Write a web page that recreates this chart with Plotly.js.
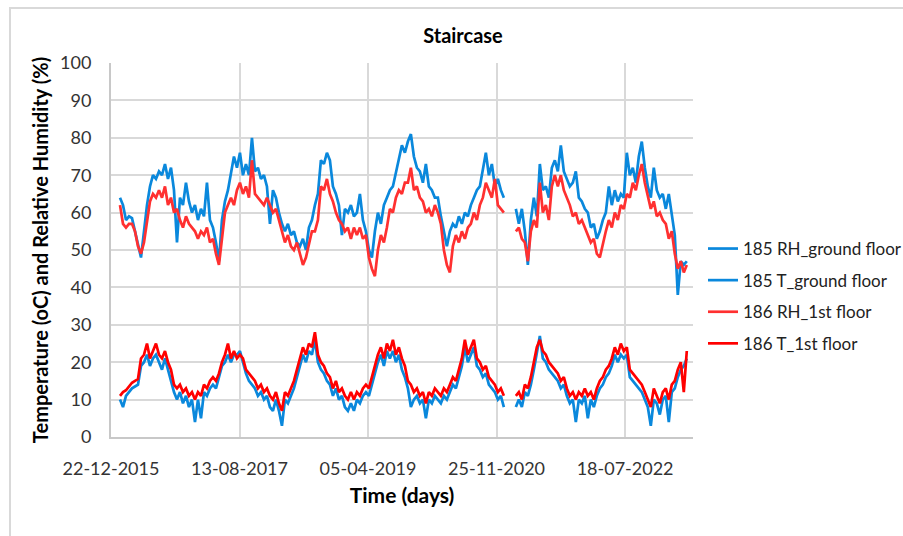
<!DOCTYPE html>
<html>
<head>
<meta charset="utf-8">
<script src="https://cdn.plot.ly/plotly-3.0.1.min.js"></script>
<style>html,body{margin:0;padding:0;background:#fff;}#chart{width:903px;height:536px;}</style>
</head>
<body>
<div id="chart"></div>
<script>
// Sampling of the daily records (every 14 days from 02-02-2016)
const startDate = '2016-02-02';
const stepDays = 14;

const tickLabels = ['22-12-2015', '13-08-2017', '05-04-2019', '25-11-2020', '18-07-2022'];
const seriesNames = ['185 RH_ground floor', '185 T_ground floor', '186 RH_1st floor', '186 T_1st floor'];

const rhGround = [
 64,62,58,59,58.5,55,52,48,55,62,
 67,70,69,71,70,73,69,72,66,52,
 64,62,68,63,60,62,58,61,59,68,
 58,56,52,47,58,63,66,70,75,72,
 76,70,73,70,80,
 71,72,69,70,67,
 57,66,64,60,57,55,57,54,55,52,
 51,53,50,56,58,62,65,74,73,76,
 74,67,65,62,54,61,60,62,59,60,
 65,58,55,50,48,55,60,57,62,64,
 66,67,71,74,78,76,
 79,81,75,72,
 71,68,73,67,66,64,64,59,55,51,
 55,57,56,59,57,60,59,62,64,66,
 67,72,76,70,73,67,69,66,64,
 null,null,null,
 61,57,61,55,46,58,64,59,
 73,66,67,64,
 72,74,71,78,71,69,
 67,68,71,64,63,61,60,56,57,53,
 55,58,60,67,62,66,63,65,64,76,
 70,72,68,75,79,72,67,64,72,66,
 64,65,61,65,60,54,38,47,46,47
];

const tGround = [
 10,8,11,12,13,13.5,14,19,20,22,
 19,21,22,20,18,21,18,15,12,10,
 12,9,11,8,10,4,10,5,12,11,
 13,14,13,16,19,20,22,20,22,22,
 23,20,17,15,14,13,11,12,10,11,
 8,7,10,7,3,10,9,11,13,16,
 19,22,20,23,22,26,20,18,17,15,
 14,11,13,10,11,8,7,9,7,10,
 9,11,12,11,14,17,20,22,19,23,
 21,23,20,22,18,16,
 13,8,10,11,
 9,10,5,10,9,11,10,9,11,10,
 12,14,13,16,19,24,20,22,24,19,
 18,16,17,14,13,12,10,11,8,
 null,null,null,
 8,10,8,12,11,14,18,22,
 27,21,20,18,
 17,16,15,13,14,11,
 9,10,4,10,9,11,5,10,8,11,
 13,14,16,17,19,22,20,22,21,22,
 16,15,14,13,12,10,8,3,10,9,
 6,10,11,4,12,13,16,18,19,21
];

const rh1st = [
 62,57,56,57,57,55,51,49,52,58,
 63,65,64,66,64,67,62,64,60,61,
 58,56,59,57,56,55,53,55,54,56,
 52,53,49,46,53,60,62,64,62,66,
 68,65,67,64,74,
 65,64,63,62,64,
 62,60,61,58,55,52,54,51,50,52,
 49,46,48,52,55,55,58,67,66,69,
 65,63,60,58,57,55,56,53,56,54,
 56,53,54,48,45,43,50,54,52,56,
 61,60,64,66,65,68,
 68,72,66,67,
 64,63,60,61,59,62,60,57,50,46,
 44,51,54,52,55,53,56,57,60,58,
 62,64,68,66,64,69,62,61,60,
 null,null,null,
 55,56,53,52,47,55,58,56,
 68,60,62,58,
 67,70,67,70,66,64,
 62,59,60,57,58,56,54,52,53,49,
 48,52,55,58,56,60,58,62,61,65,
 64,68,66,70,73,68,64,61,63,59,
 60,58,57,53,55,49,45,47,44,46
];

const t1st = [
 11,12,12.5,13.5,14.5,15,15.5,21,22,25,
 21,23,25,22,21,23,20,18,14,13,
 14,12,13,11,12,10,12,11,14,13,
 15,16,15,17,20,22,25,21,23,21,
 22,21,18,17,16,15,13,14,12,13,
 11,10,12,9,7,12,11,13,15,18,
 21,24,22,25,24,28,22,20,19,17,
 16,13,15,12,13,11,10,12,10,12,
 11,13,14,13,16,19,22,24,21,25,
 23,26,22,24,21,19,
 15,14,12,13,
 11,12,9,12,11,13,12,11,13,12,
 14,16,15,18,21,26,22,24,26,21,
 20,18,19,16,15,14,12,13,11,
 null,null,null,
 11,12,10,14,13,16,20,24,
 26,23,22,20,
 19,18,17,15,16,13,
 11,12,10,12,11,13,11,12,10,13,
 15,16,18,19,21,24,22,25,23,24,
 18,17,16,15,14,12,10,8,13,11,
 9,12,13,10,14,15,18,20,12,23
];

function buildDates(n) {
  const t0 = Date.parse(startDate + 'T00:00:00Z');
  const out = [];
  for (let i = 0; i < n; i++) {
    out.push(new Date(t0 + i * stepDays * 86400000).toISOString().slice(0, 10));
  }
  return out;
}
const dates = buildDates(rhGround.length);
const tickVals = tickLabels.map(s => { const p = s.split('-'); return p[2] + '-' + p[1] + '-' + p[0]; });

const blue = '#0a88dc';
const red = '#ff0000';
const FONT = 'Lato, "Open Sans", sans-serif';

const seriesData = [rhGround, tGround, rh1st, t1st];
const seriesColors = [blue, blue, '#ff3030', red];

const traces = seriesData.map((ys, k) => ({
  type: 'scatter', mode: 'lines',
  x: dates, y: ys, name: seriesNames[k],
  legendgroup: 'g' + k,
  connectgaps: false,
  line: {color: seriesColors[k], width: 2.7}
}));

const layout = {
  width: 903, height: 536,
  margin: {l: 111, r: 210, t: 63, b: 99, autoexpand: false},
  paper_bgcolor: '#ffffff', plot_bgcolor: '#ffffff',
  font: {family: FONT, size: 17, color: '#333333'},
  title: {text: '<b>Staircase</b>', font: {family: FONT, size: 20, color: '#000'}, x: 463/903, xanchor: 'center', y: 1 - 36/536, yanchor: 'middle'},
  xaxis: {
    type: 'date', range: ['2015-12-22', '2023-05-31'],
    tickmode: 'array', tickvals: tickVals, ticktext: tickLabels,
    showgrid: true, gridcolor: '#d9d9d9', gridwidth: 1.5,
    showline: true, linecolor: '#c8c8c8', linewidth: 2,
    zeroline: false, ticks: '', ticklabelstandoff: 14,
    tickfont: {family: FONT, size: 18, color: '#333'},
    title: {text: '<b>Time (days)</b>', font: {family: FONT, size: 21, color: '#000'}, standoff: 11}
  },
  yaxis: {
    range: [0, 100], dtick: 10, tick0: 0,
    showgrid: true, gridcolor: '#d9d9d9', gridwidth: 1.5,
    showline: true, linecolor: '#c8c8c8', linewidth: 2,
    zeroline: false, ticks: '', ticklabelstandoff: 14,
    tickfont: {family: FONT, size: 18, color: '#333'},
    title: {text: '<b>Temperature (oC) and Relative Humidity (%)</b>', font: {family: FONT, size: 20, color: '#000'}, standoff: 6}
  },
  showlegend: true,
  legend: {
    x: (703 - 111) / 582, xanchor: 'left',
    y: (437 - 231) / 374, yanchor: 'top',
    traceorder: 'grouped', tracegroupgap: 6.5,
    font: {family: FONT, size: 17, color: '#222'},
    bgcolor: 'rgba(0,0,0,0)', borderwidth: 0
  },
  shapes: [{
    type: 'rect', xref: 'paper', yref: 'paper',
    x0: (10 - 111) / 582, x1: (915 - 111) / 582,
    y0: (437 - 548) / 374, y1: (437 - 8) / 374,
    line: {color: '#d9d9d9', width: 2}, fillcolor: 'rgba(0,0,0,0)', layer: 'below'
  }]
};

Plotly.newPlot('chart', traces, layout, {displayModeBar: false, responsive: false});
</script>
</body>
</html>
